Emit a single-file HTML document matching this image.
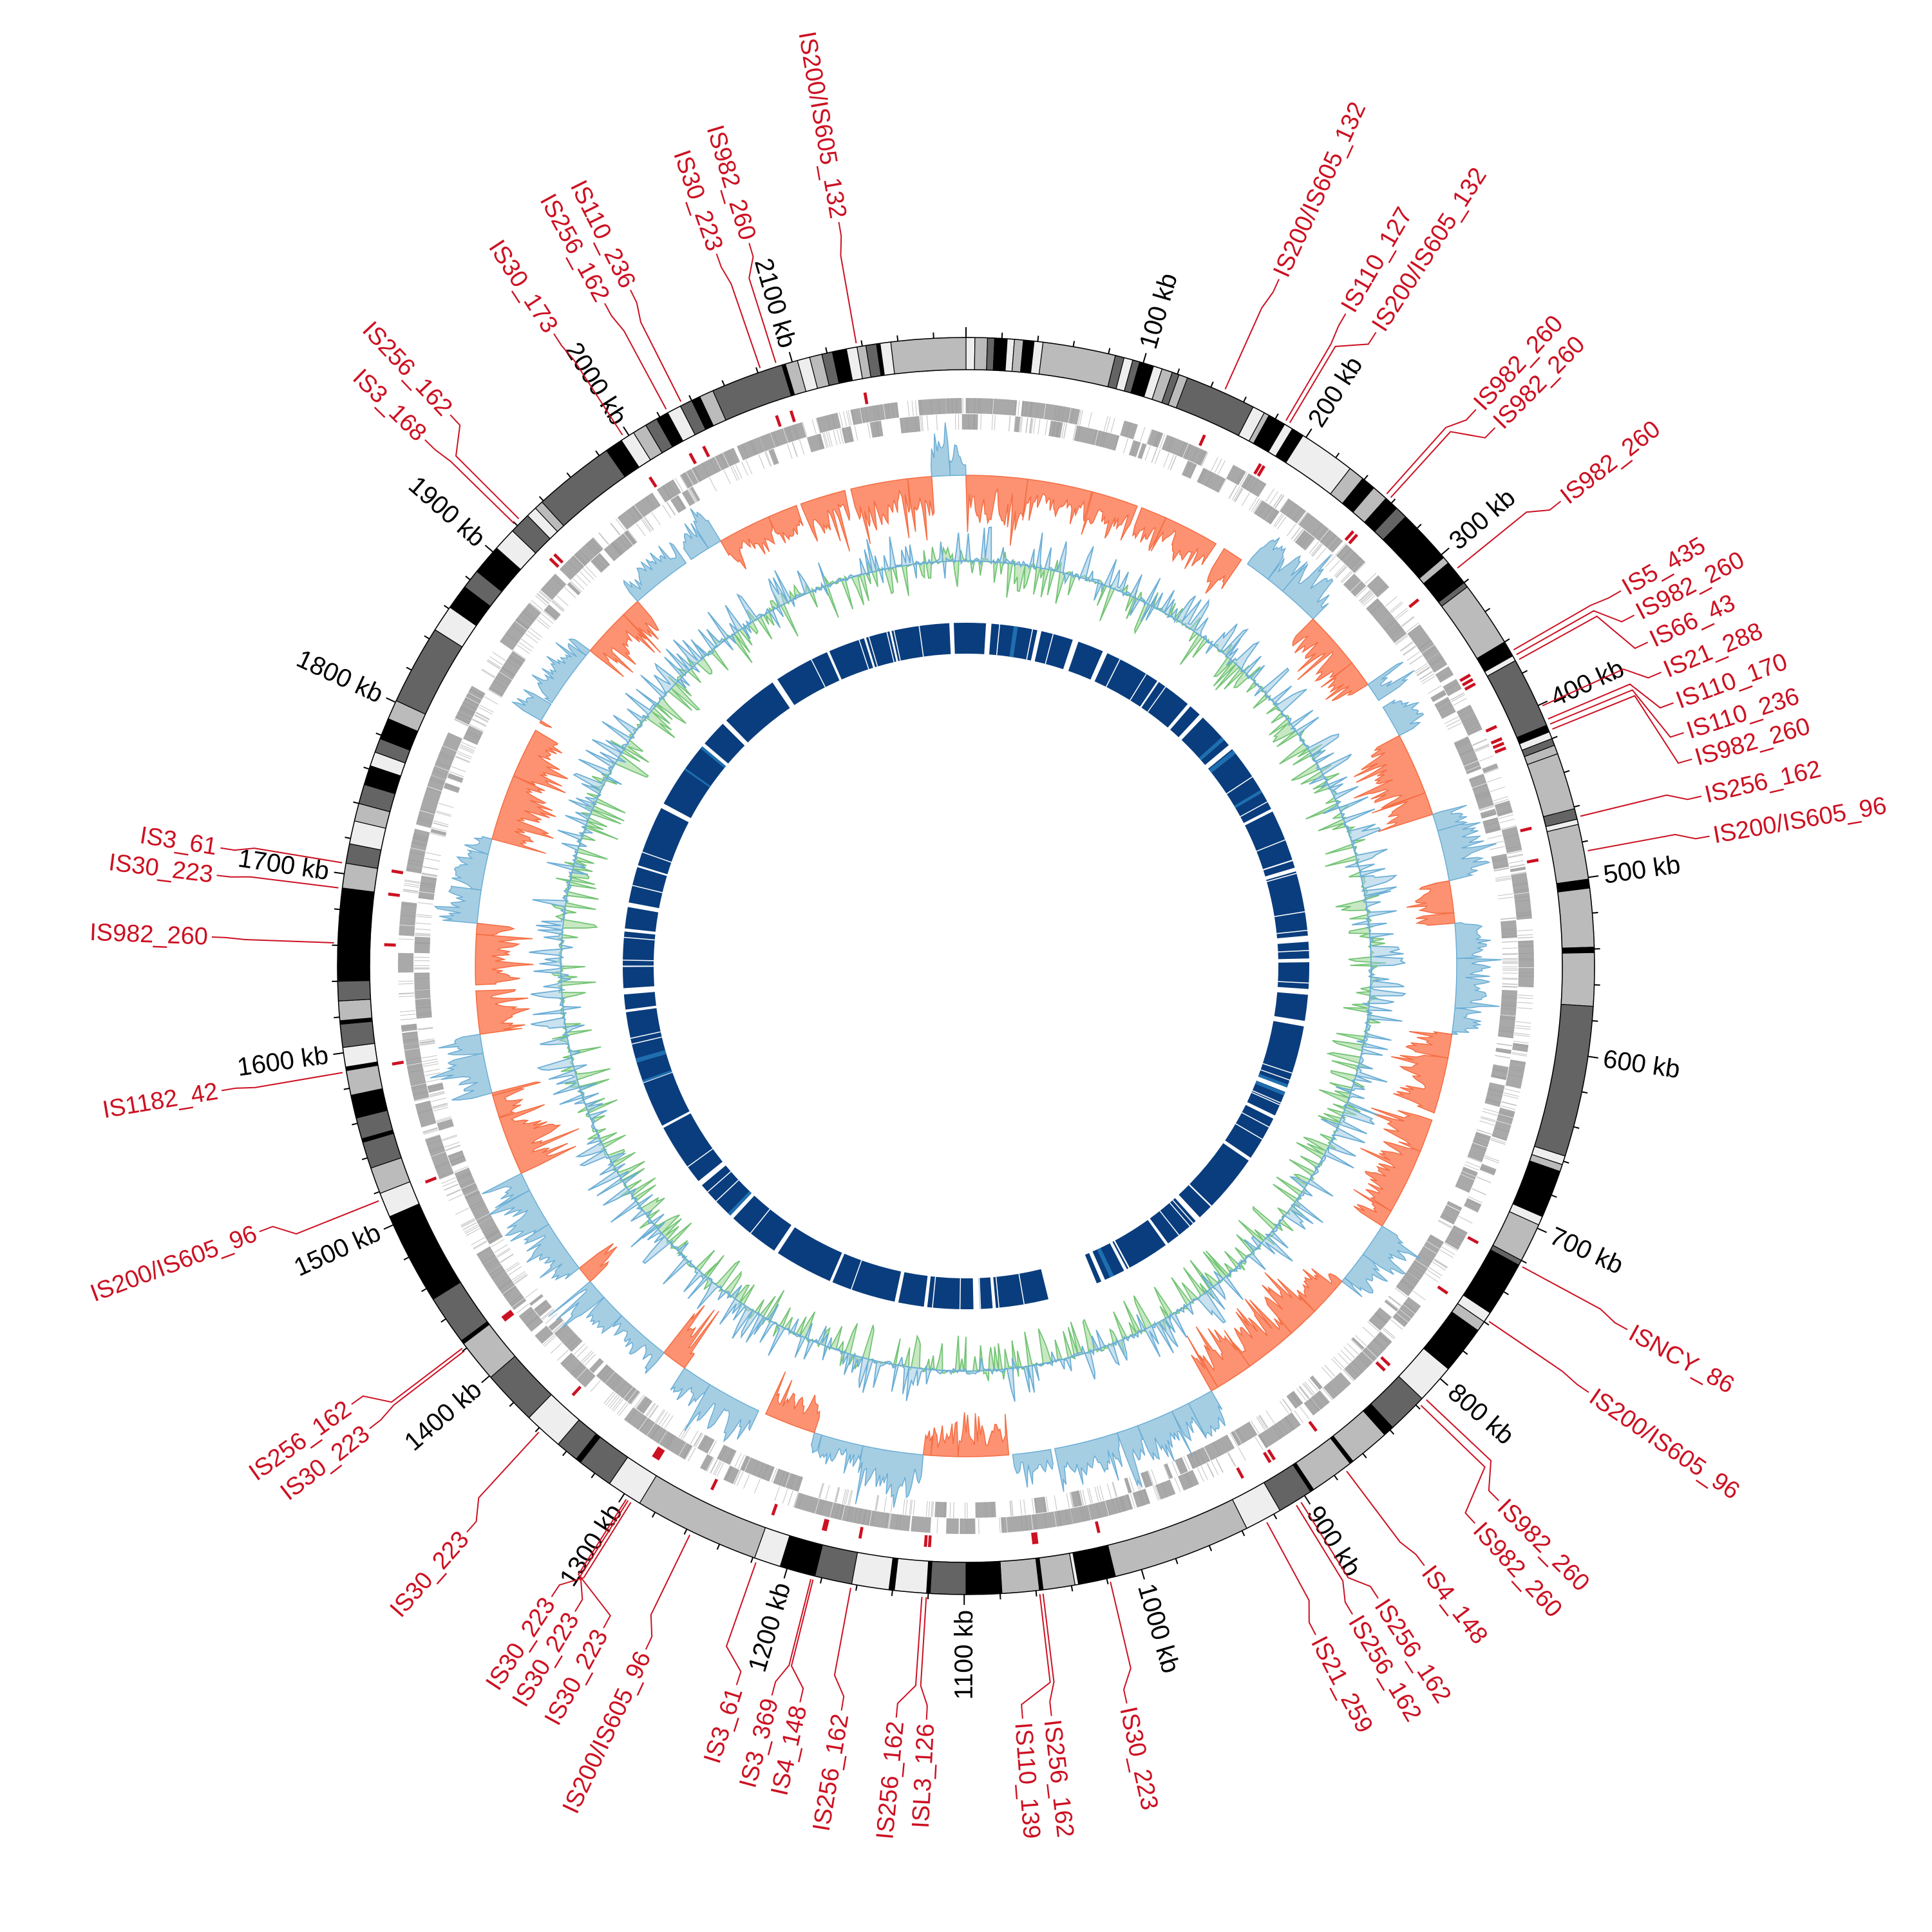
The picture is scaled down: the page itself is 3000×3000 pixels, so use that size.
<!DOCTYPE html>
<html><head><meta charset="utf-8"><style>
html,body{margin:0;padding:0;background:#fff;}
svg{display:block;}
</style></head><body>
<svg id="s" xmlns="http://www.w3.org/2000/svg" width="3000" height="3000" viewBox="0 0 3000 3000"></svg>
<script>
(function(){
const S=document.getElementById('s');
const C=1500, KB=360/2198;
let seed=12345;
function rnd(){seed|=0;seed=seed+0x6D2B79F5|0;let t=Math.imul(seed^seed>>>15,1|seed);t=t+Math.imul(t^t>>>7,61|t)^t;return((t^t>>>14)>>>0)/4294967296;}
function P(r,a){const t=a*Math.PI/180;return [C+r*Math.sin(t),C-r*Math.cos(t)];}
function ps(p){return p[0].toFixed(1)+','+p[1].toFixed(1);}
function sector(r1,r2,a1,a2){const l=(a2-a1)>180?1:0;return 'M'+ps(P(r2,a1))+'A'+r2+','+r2+' 0 '+l+' 1 '+ps(P(r2,a2))+'L'+ps(P(r1,a2))+'A'+r1+','+r1+' 0 '+l+' 0 '+ps(P(r1,a1))+'Z';}
let out=[];
function add(s){out.push(s);}

const B={K:'#000000',D:'#646464',M:'#bbbbbb',L:'#eeeeee'};
const bands=[[0,5,'L'],[5,12,'M'],[12,16,'D'],[16,23,'K'],[23,27,'L'],[27,32,'M'],[32,38,'K'],[38,43,'L'],[43,84,'M'],[84,89,'D'],[89,94,'L'],[94,98,'D'],[98,106,'K'],[106,111,'L'],[111,117,'M'],[117,121,'D'],[121,126,'M'],[126,166,'D'],[166,173,'L'],[173,176,'M'],[176,186,'K'],[186,191,'L'],[191,198,'K'],[198,230,'L'],[230,239,'M'],[239,247,'K'],[247,256,'M'],[256,264,'K'],[264,271,'D'],[271,302,'K'],[302,306,'M'],[306,320,'K'],[320,323,'D'],[323,360,'M'],[360,369,'K'],[369,372,'L'],[372,412,'D'],[412,416,'K'],[416,420,'L'],[420,424,'D'],[424,429,'M'],[429,461,'M'],[461,467,'D'],[467,470,'L'],[470,501,'M'],[501,506,'K'],[506,539,'M'],[539,542,'K'],[542,572,'M'],[572,657,'D'],[657,662,'L'],[662,666,'M'],[666,693,'K'],[693,698,'L'],[698,720,'M'],[720,723,'D'],[723,754,'K'],[754,760,'L'],[760,766,'M'],[766,793,'K'],[793,815,'L'],[815,838,'D'],[838,844,'K'],[844,867,'M'],[867,869,'K'],[869,894,'M'],[894,896,'K'],[896,916,'D'],[916,937,'L'],[937,1015,'M'],[1015,1036,'K'],[1036,1038,'L'],[1038,1056,'M'],[1056,1058,'K'],[1058,1079,'M'],[1079,1099,'K'],[1099,1119,'D'],[1119,1121,'K'],[1121,1139,'L'],[1139,1142,'K'],[1142,1163,'L'],[1163,1184,'D'],[1184,1204,'K'],[1204,1219,'L'],[1219,1290,'M'],[1290,1310,'L'],[1310,1330,'D'],[1330,1333,'K'],[1333,1346,'D'],[1346,1368,'L'],[1368,1399,'D'],[1399,1423,'M'],[1423,1425,'K'],[1425,1453,'D'],[1453,1505,'K'],[1505,1519,'L'],[1519,1534,'M'],[1534,1549,'D'],[1549,1551,'K'],[1551,1563,'D'],[1563,1576,'K'],[1576,1590,'M'],[1590,1592,'K'],[1592,1603,'L'],[1603,1616,'D'],[1616,1618,'K'],[1618,1629,'M'],[1629,1640,'D'],[1640,1692,'K'],[1692,1706,'M'],[1706,1717,'D'],[1717,1730,'L'],[1730,1740,'M'],[1740,1751,'D'],[1751,1762,'K'],[1762,1770,'L'],[1770,1778,'D'],[1778,1790,'K'],[1790,1801,'M'],[1801,1846,'D'],[1846,1861,'L'],[1861,1875,'K'],[1875,1886,'D'],[1886,1903,'K'],[1903,1916,'L'],[1916,1928,'D'],[1928,1934,'L'],[1934,1939,'M'],[1939,1985,'D'],[1985,1995,'K'],[1995,2003,'L'],[2003,2011,'M'],[2011,2018,'D'],[2018,2025,'K'],[2025,2033,'L'],[2033,2040,'D'],[2040,2045,'K'],[2045,2053,'M'],[2053,2094,'D'],[2094,2096,'K'],[2096,2103,'M'],[2103,2110,'L'],[2110,2117,'M'],[2117,2123,'D'],[2123,2131,'K'],[2131,2137,'L'],[2137,2142,'M'],[2142,2148,'D'],[2148,2150,'K'],[2150,2156,'L'],[2156,2198,'M']];
const R1=926,R2=976;
bands.forEach(b=>{add('<path d="'+sector(R1,R2,b[0]*KB,b[1]*KB)+'" fill="'+B[b[2]]+'" stroke="#000" stroke-width="1.2"/>');});
add('<circle cx="1500" cy="1500" r="'+R2+'" fill="none" stroke="#000" stroke-width="1.5"/>');
add('<circle cx="1500" cy="1500" r="'+R1+'" fill="none" stroke="#000" stroke-width="1.5"/>');
let tk='';
for(let k=0;k<2198;k+=20){const maj=k%100===0;const a=k*KB;tk+='M'+ps(P(R2,a))+'L'+ps(P(R2+(maj?16:9),a));}
add('<path d="'+tk+'" stroke="#000" stroke-width="2" fill="none"/>');
for(let k=100;k<=2100;k+=100){const a=k*KB;const p=P(1000,a);let rot,anc;if(a<180){rot=a-90;anc='start';}else{rot=a+90;anc='end';}
add('<text x="'+p[0].toFixed(1)+'" y="'+p[1].toFixed(1)+'" transform="rotate('+rot.toFixed(2)+' '+p[0].toFixed(1)+' '+p[1].toFixed(1)+')" text-anchor="'+anc+'" dominant-baseline="central" font-family="Liberation Sans, sans-serif" font-size="40" fill="#000">'+k+' kb</text>');}

let g='';
let a=0;
while(a<360){const len=0.3+rnd()*2.5;const row=rnd();
 if(row<0.55){g+=sector(858,882,a,a+len);} else if(row<0.9){g+=sector(833,857,a,a+len);} else {g+=sector(858,882,a,a+len)+sector(833,857,a+len*0.3,a+len*0.8);}
 a+=len+(rnd()<0.3?rnd()*0.6:0.04);}
add('<path d="'+g+'" fill="#a9a9a9"/>');
let gl='';
for(let i=0;i<1400;i++){const aa=rnd()*360;const o=rnd()<0.5;gl+='M'+ps(P(o?858:833,aa))+'L'+ps(P(o?882:857,aa));}
add('<path d="'+gl+'" stroke="#999" stroke-width="1" fill="none" opacity="0.6"/>');

const regions=[[0,35,-1],[35,45,1],[45,55,-1],[55,62,1],[62,72,-1],[72,80,1],[80,85,-1],[85,98,1],[98,122,-1],[122,130,1],[130,150,-1],[150,175,1],[175,185,-1],[185,198,1],[198,205,-1],[205,215,1],[215,218,-1],[218,230,1],[230,232,-1],[232,245,1],[245,255,-1],[255,262,1],[262,275,-1],[275,285,1],[285,300,-1],[300,310,1],[310,318,-1],[318,330,1],[330,356,-1],[356,360,1]];
const HB=762;
function areaPath(base,a1,a2,fn,step){let d='M'+ps(P(base,a1));for(let t=a1;t<=a2+1e-6;t+=step){d+='L'+ps(P(base+fn(t),t));}
 const l=(a2-a1)>180?1:0;d+='L'+ps(P(base,a2))+'A'+base+','+base+' 0 '+l+' 0 '+ps(P(base,a1))+'Z';return d;}
regions.forEach(rg=>{const sgn=rg[2];
 let sub=rg[0];
 while(sub<rg[1]){let e=Math.min(rg[1],sub+2+rnd()*6);const env=sgn<0?(50+rnd()*45):(40+rnd()*40);let last=0;
  const d=areaPath(HB,sub,e,t=>{let v=env*(0.2+0.8*Math.pow(rnd(),0.8));if(rnd()<0.15)v*=0.3;v=0.55*v+0.45*last;last=v;if(rnd()<0.12)v=env*(0.8+rnd()*0.4);return sgn*v;},0.2);
  if(sgn<0)add('<path d="'+d+'" fill="#fc9272" stroke="#f46d43" stroke-width="1.5"/>');
  else add('<path d="'+d+'" fill="#a6cee3" stroke="#6baed6" stroke-width="1.5"/>');
  sub=e+(rnd()<0.3?rnd()*1.2:0);}
});

// GC ring - spiky
const GB=629;
for(let c=0;c<360;c+=10){
 const dg=areaPath(GB,c,c+10,t=>{let v=rnd()*8-3;if(rnd()<0.25)v=-(15+rnd()*40);else if(rnd()<0.1)v=10+rnd()*15;return v;},0.3);
 add('<path d="'+dg+'" fill="#a1d99b" fill-opacity="0.6" stroke="#74c476" stroke-width="1.8"/>');
 const db=areaPath(GB,c,c+10,t=>{let v=rnd()*10-4;if(rnd()<0.25)v=15+rnd()*40;else if(rnd()<0.1)v=-(10+rnd()*20);return v;},0.3);
 add('<path d="'+db+'" fill="#9ecae1" fill-opacity="0.55" stroke="#6baed6" stroke-width="1.8"/>');
}

let bl='';a=0;
function blueSeg(a1,a2){bl+=sector(485,533,a1,a2);}
while(a<360){let len=2+rnd()*10;let e=a+len;
 if(a<157.6&&e>157.6){blueSeg(a,157.6);a=166.1;continue;}
 if(a>=157.6&&a<166.1){a=166.1;continue;}
 if(e>360)e=360;blueSeg(a,e);a=e+0.2+rnd()*0.9;}
add('<path d="'+bl+'" fill="#0a3d7d"/>');
let wl='',lb2='';
for(let i=0;i<60;i++){let aa=rnd()*360;if(aa>157&&aa<167)continue;wl+='M'+ps(P(485,aa))+'L'+ps(P(533,aa));}
for(let i=0;i<12;i++){let aa=rnd()*360;if(aa>157&&aa<167)continue;lb2+=sector(485,533,aa,aa+0.3+rnd()*0.5);}
add('<path d="'+wl+'" stroke="#fff" stroke-width="1.5" fill="none"/>');
add('<path d="'+lb2+'" fill="#1f6fb0"/>');

const L=[["IS200/IS605_132",24.5,24.2],["IS110_127",30.2,30.4],["IS200/IS605_132",32.9,30.8],["IS982_260",42.5,41.7],["IS982_260",44.5,42.2],["IS982_260",52,51],["IS5_435",60.2,60],["IS982_260",62.3,60.5],["IS66_43",64.6,61],["IS21_288",67.1,65.7],["IS110_170",69.6,67],["IS110_236",72,67.5],["IS982_260",74.1,68],["IS256_162",77,76.3],["IS200/IS605_96",80.1,79.5],["ISNCY_86",118.8,118.4],["IS200/IS605_96",124.4,124.2],["IS982_260",135.1,133.3],["IS982_260",137.6,134],["IS4_148",142.6,143],["IS256_162",146.9,148],["IS256_162",149.2,148.5],["IS21_259",152.4,151.6],["IS30_223",167.7,166.8],["IS256_162",173.5,173],["IS110_139",175.7,173.3],
["ISL3_126",183,183.6],["IS256_162",185.3,184],["IS256_162",189.5,190.5],["IS4_148",192.7,194],["IS3_369",194.9,194.2],["IS3_61",197.7,199.4],["IS200/IS605_96",205.1,205.9],["IS30_223",208.7,212.5],["IS30_223",211.2,212.3],["IS30_223",213.3,212],["IS30_223",221.4,222.5],["IS30_223",232.2,232.5],["IS256_162",234.5,232.8],["IS200/IS605_96",249.4,248.2],["IS1182_42",260.5,260.3],["IS982_260",272.2,272.1],["IS30_223",276.9,277.1],["IS3_61",279,279.4],["IS3_168",314.2,314.4],["IS256_162",316.9,315],["IS30_173",326.9,327.1],["IS256_162",331.4,331.7],["IS110_236",333.6,333.2],["IS30_223",340.7,341],["IS982_260",343.3,342.5],["IS200/IS605_132",350.3,350]];
let ld='',mk='';
L.forEach(l=>{const tl=l[1],tt=l[2];
 ld+='M'+ps(P(982,tt))+'L'+ps(P(1120,tt))+'L'+ps(P(1150,tl))+'L'+ps(P(1172,tl));
 mk+=sector(886,904,tt-0.15,tt+0.15);
 const p=P(1178,tl);let rot,anc;if(tl<180){rot=tl-90;anc='start';}else{rot=tl+90;anc='end';}
 add('<text x="'+p[0].toFixed(1)+'" y="'+p[1].toFixed(1)+'" transform="rotate('+rot.toFixed(2)+' '+p[0].toFixed(1)+' '+p[1].toFixed(1)+')" text-anchor="'+anc+'" dominant-baseline="central" font-family="Liberation Sans, sans-serif" font-size="38" fill="#cc1122">'+l[0]+'</text>');});
add('<path d="'+ld+'" stroke="#cc1122" stroke-width="2" fill="none"/>');
add('<path d="'+mk+'" fill="#cc1122"/>');
S.innerHTML=out.join('');
})();
</script>
</body></html>
